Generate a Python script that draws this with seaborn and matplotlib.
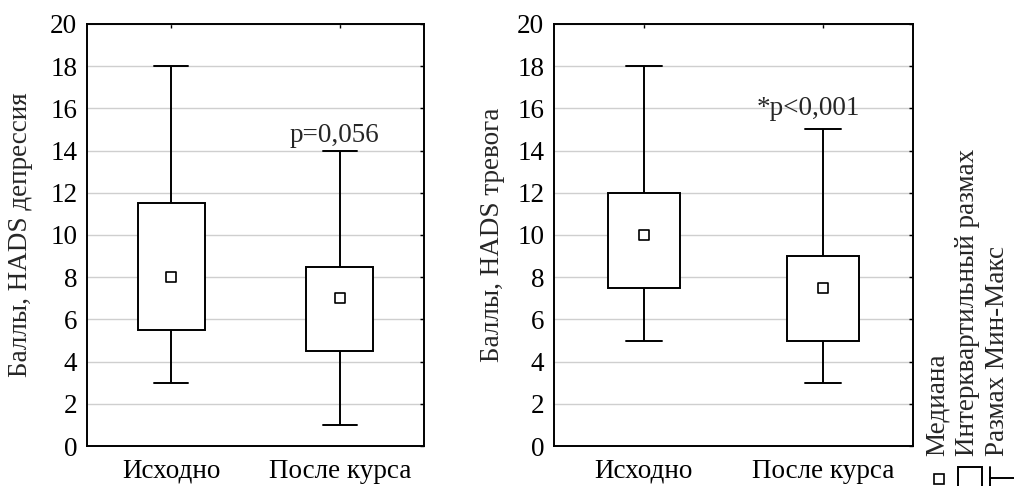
import matplotlib
matplotlib.use("Agg")
import matplotlib.pyplot as plt
from matplotlib.lines import Line2D
from matplotlib.patches import Rectangle
import seaborn as sns
import pandas as pd

# ---- data (five-number summaries) ----
categories = ["Исходно", "После курса"]
# depression: min, q1, median, q3, max
dep_baseline = [3, 5.5, 8, 11.5, 18]
dep_after = [1, 4.5, 7, 8.5, 14]
# anxiety
anx_baseline = [5, 7.5, 10, 12, 18]
anx_after = [3, 5, 7.5, 9, 15]

ylabels = ["Баллы, HADS депрессия", "Баллы, HADS тревога"]
pvalue_labels = ["p=0,056", "*p<0,001"]
pvalue_y = [14.4, 15.7]
pvalue_x = [0.966, 0.915]
legend_labels = ["Медиана", "Интерквартильный размах", "Размах Мин-Макс"]

sns.set_style("white")
plt.rcParams["font.family"] = ["Liberation Serif", "DejaVu Serif"]

FS = 19.5

fig = plt.figure(figsize=(10.14, 4.86), dpi=100)
ax1 = fig.add_axes([87 / 1014, 1 - 446 / 486, (424 - 87) / 1014, (446 - 24) / 486])
ax2 = fig.add_axes([554 / 1014, 1 - 446 / 486, (913 - 554) / 1014, (446 - 24) / 486])

panels = [
    (ax1, dep_baseline, dep_after, ylabels[0], pvalue_labels[0], pvalue_x[0], pvalue_y[0], -0.160),
    (ax2, anx_baseline, anx_after, ylabels[1], pvalue_labels[1], pvalue_x[1], pvalue_y[1], -0.136),
]

for ax, base, after, ylab, ptxt, px, py, lx in panels:
    df = pd.DataFrame({
        "period": [categories[0]] * len(base) + [categories[1]] * len(after),
        "score": base + after,
    })
    med = pd.DataFrame({"period": categories, "score": [base[2], after[2]]})
    ax.yaxis.grid(True, color="#cfcfcf", linewidth=1.0, zorder=0)
    ax.set_axisbelow(True)
    sns.boxplot(data=df, x="period", y="score", order=categories, ax=ax,
                whis=(0, 100), width=0.4, color="white", linecolor="black",
                linewidth=1.4, showfliers=False,
                medianprops={"visible": False}, zorder=2)
    sns.stripplot(data=med, x="period", y="score", order=categories, ax=ax,
                  jitter=False, marker="s", color="white", edgecolor="black",
                  linewidth=1.2, size=6.5, zorder=4)
    ax.set_ylim(0, 20)
    ax.set_xlim(-0.5, 1.5)
    ax.set_yticks(range(0, 21, 2))
    ax.set_xlabel("")
    ax.set_ylabel(ylab, fontsize=FS)
    ax.yaxis.set_label_coords(lx, 0.5)
    ax.tick_params(axis="both", direction="in", length=3, width=1,
                   top=True, right=True, labelsize=FS, colors="black")
    ax.tick_params(axis="y", pad=7)
    ax.tick_params(axis="x", pad=9)
    for sp in ax.spines.values():
        sp.set_visible(True)
        sp.set_color("black")
        sp.set_linewidth(1.4)
    ax.text(px, py, ptxt, ha="center", va="baseline", fontsize=FS)

# ---- vertical legend at the right ----
y0 = 1 - 456 / 486
xs = [937 / 1014, 968 / 1014, 998 / 1014]
for x, lab in zip(xs, legend_labels):
    fig.text(x, y0, lab, rotation=90, ha="center", va="bottom", fontsize=FS)

fig.add_artist(Line2D([939 / 1014], [1 - 479 / 486], marker="s", markersize=6.5,
                      markerfacecolor="white", markeredgecolor="black",
                      markeredgewidth=1.2, linestyle="none",
                      transform=fig.transFigure))
fig.add_artist(Rectangle((958 / 1014, -0.01), (982 - 958) / 1014, 1 - 467 / 486 + 0.01,
                         fill=False, edgecolor="black", linewidth=1.4,
                         transform=fig.transFigure))
fig.add_artist(Line2D([990 / 1014, 990 / 1014], [0, 1 - 467 / 486], color="black",
                      linewidth=1.4, transform=fig.transFigure))
fig.add_artist(Line2D([990 / 1014, 1.0], [1 - 478 / 486, 1 - 478 / 486], color="black",
                      linewidth=1.4, transform=fig.transFigure))

fig.savefig("out.png", dpi=100, facecolor="white")
